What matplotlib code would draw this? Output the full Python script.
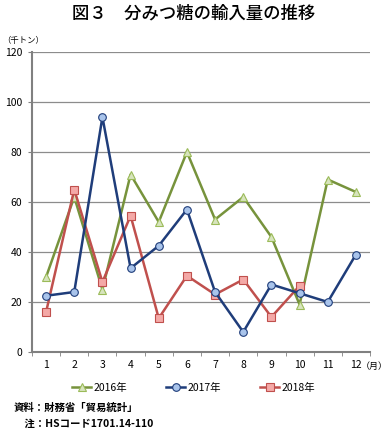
import numpy as np
import matplotlib.pyplot as plt
from matplotlib.lines import Line2D

plt.rcParams['font.family'] = ['Noto Sans CJK JP', 'DejaVu Sans']

months = ['1', '2', '3', '4', '5', '6', '7', '8', '9', '10', '11', '12']
y2016 = [30, 62, 25, 71, 52, 80, 53, 62, 46, 19, 69, 64]
y2017 = [22.5, 24, 94, 33.5, 42.5, 57, 24, 8, 27, 23.5, 20, 39]
y2018 = [16, 65, 28, 54.5, 13.5, 30.5, 23, 29, 14, 26.5]

fig = plt.figure(figsize=(3.87, 4.33), dpi=100)
ax = fig.add_axes([32 / 387, 1 - 352 / 433, 338 / 387, 300 / 433])

style16 = dict(color='#77933C', lw=1.8, marker='^', ms=5.5, mfc='#D7E4BD', mec='#9BBB59', mew=0.8)
style17 = dict(color='#1F3D7A', lw=1.8, marker='o', ms=5.5, mfc='#A9C4EB', mec='#1F3D7A', mew=0.8)
style18 = dict(color='#C0504D', lw=1.8, marker='s', ms=5.5, mfc='#F4A9A7', mec='#C0504D', mew=0.8)

x = np.arange(len(months))
ax.plot(x, y2016, zorder=3, **style16)
ax.plot(x, y2017, zorder=4, **style17)
ax.plot(x[:len(y2018)], y2018, zorder=3, **style18)

ax.set_xlim(-0.5, 11.5)
ax.set_ylim(0, 120)
ax.set_yticks(np.arange(0, 121, 20))
ax.set_xticks(x)
ax.set_xticklabels(months)
ax.set_xticks(np.arange(-0.5, 12, 1), minor=True)
ax.tick_params(axis='x', which='major', length=0, labelsize=7.5, pad=6)
ax.tick_params(axis='x', which='minor', length=3, color='#808080', direction='out')
ax.tick_params(axis='y', length=3, color='#808080', labelsize=7.5, pad=4)
ax.grid(axis='y', color='#8C8C8C', lw=0.9)
ax.set_axisbelow(True)
for s in ['top', 'right']:
    ax.spines[s].set_visible(False)
for s in ['left', 'bottom']:
    ax.spines[s].set_color('#808080')
    ax.spines[s].set_linewidth(1.5)

fig.text(0.5, 1 - 14 / 433, '図３　分みつ糖の輸入量の推移', ha='center', va='center',
         fontsize=12.5, fontweight='medium')
fig.text(2 / 387, 1 - 40 / 433, '（千トン）', ha='left', va='center', fontsize=6)
fig.text(361 / 387, 1 - 366 / 433, '（月）', ha='left', va='center', fontsize=6.5)

handles = [Line2D([], [], **style16), Line2D([], [], **style17), Line2D([], [], **style18)]
fig.legend(handles, ['2016年', '2017年', '2018年'], loc='center',
           bbox_to_anchor=(0.5, 1 - 388 / 433), ncol=3, frameon=False,
           fontsize=7.5, handlelength=1.8, handletextpad=0.2, columnspacing=3.8)

fig.text(14 / 387, 1 - 408 / 433, '資料：財務省「貿易統計」', ha='left', va='center',
         fontsize=7.5, fontweight='bold')
fig.text(14 / 387, 1 - 424 / 433, '　注：HSコード1701.14-110', ha='left', va='center',
         fontsize=7.5, fontweight='bold')

fig.savefig('out.png', dpi=100)
